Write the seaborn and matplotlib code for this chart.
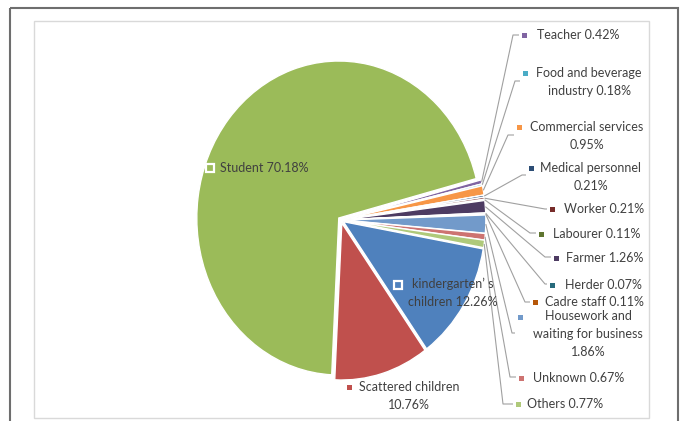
"""Occupation breakdown pie (Excel-style exploded pie with leader-lined labels)."""

import matplotlib

matplotlib.use("Agg")
import matplotlib.pyplot as plt
import numpy as np
import seaborn as sns
from matplotlib.patches import Rectangle

# ---- data -----------------------------------------------------------------
CATEGORIES = [
    "kindergarten’ s children",
    "Scattered children",
    "Student",
    "Teacher",
    "Food and beverage industry",
    "Commercial services",
    "Medical personnel",
    "Worker",
    "Labourer",
    "Farmer",
    "Herder",
    "Cadre staff",
    "Housework and waiting for business",
    "Unknown",
    "Others",
]
SHARES = [12.26, 10.76, 70.18, 0.42, 0.18, 0.95, 0.21, 0.21, 0.11, 1.26, 0.07, 0.11, 1.86, 0.67, 0.77]

# Excel 2010 default series palette
COLORS = [
    "#4F81BD", "#C0504D", "#9BBB59", "#8064A2", "#4BACC6", "#F79646",
    "#2C4D75", "#772C2A", "#5F7530", "#4D3B62", "#276A7C", "#B65708",
    "#729ACA", "#CD7371", "#AFC97A",
]

# word index after which the label wraps
BREAKS = {
    "kindergarten’ s children": [2],
    "Scattered children": [2],
    "Food and beverage industry": [3],
    "Commercial services": [2],
    "Medical personnel": [2],
    "Housework and waiting for business": [2, 5],
}

# pixel layout: marker xy, text x, first-line y, alignment, leader elbow (or None)
LAYOUT = {
    "Student": (210, 168, 220, 168, "left", None),
    "kindergarten’ s children": (398, 285, 453, 284, "center", None),
    "Scattered children": (349, 387, 409, 387, "center", None),
    "Teacher": (524, 35, 537, 35, "left", (513, 35)),
    "Food and beverage industry": (525, 73, 589, 73, "center", (515, 81)),
    "Commercial services": (519, 127, 587, 127, "center", (508, 135)),
    "Medical personnel": (531, 168, 591, 168, "center", (522, 175)),
    "Worker": (552, 209, 564, 209, "left", (545, 209)),
    "Labourer": (541, 234, 553, 234, "left", (530, 233)),
    "Farmer": (556, 258, 566, 258, "left", (545, 257)),
    "Herder": (552, 285, 565, 285, "left", (545, 284)),
    "Cadre staff": (535, 302, 545, 302, "left", (525, 302)),
    "Housework and waiting for business": (520, 317, 588, 316, "center", (512, 333)),
    "Unknown": (521, 378, 533, 378, "left", (510, 377)),
    "Others": (518, 404, 527, 404, "left", (503, 404)),
}
HOLLOW = {"Student", "kindergarten’ s children"}

TEXT = "#404040"
LEADER = "#A0A0A0"

sns.set_theme(style="white")
plt.rcParams["font.family"] = ["Lato", "DejaVu Sans"]

W, H = 684, 421
CX, CY, RX, RY = 341, 220, 142, 157  # pie centre / radii in pixels (slightly tall ellipse)
PAD = 1.1

fig = plt.figure(figsize=(W / 100, H / 100), dpi=100)
fig.patch.set_facecolor("white")

pie_ax = fig.add_axes(
    [(CX - PAD * RX) / W, (H - CY - PAD * RY) / H, 2 * PAD * RX / W, 2 * PAD * RY / H]
)
wedges, _ = pie_ax.pie(
    SHARES,
    colors=COLORS,
    startangle=-10,
    counterclock=False,
    explode=[0.02] * len(SHARES),
    wedgeprops={"edgecolor": "white", "linewidth": 1.0},
)
pie_ax.set_aspect("auto")
pie_ax.set_xlim(-PAD, PAD)
pie_ax.set_ylim(-PAD, PAD)
pie_ax.axis("off")

# overlay in image-pixel coordinates for labels, leaders and frames
ov = fig.add_axes([0, 0, 1, 1])
ov.set_xlim(0, W)
ov.set_ylim(H, 0)
ov.axis("off")
ov.patch.set_alpha(0)

ov.add_patch(Rectangle((10, 8), 668, 430, fill=False, ec="#6E6E6E", lw=1.5, clip_on=False))
ov.add_patch(Rectangle((34, 21), 615, 397, fill=False, ec="#D9D9D9", lw=1.0))

to_px = ov.transData.inverted()

for name, share, color, w in zip(CATEGORIES, SHARES, COLORS, wedges):
    mx, my, tx, ty, ha, elbow = LAYOUT[name]
    words = f"{name} {share:.2f}%".split(" ")
    cuts = [0] + BREAKS.get(name, []) + [len(words)]
    lines = [" ".join(words[a:b]) for a, b in zip(cuts[:-1], cuts[1:])]
    for i, line in enumerate(lines):
        ov.text(tx, ty + i * 18, line, ha=ha, va="center", fontsize=9, color=TEXT)

    if name in HOLLOW:
        ov.plot([mx], [my], marker="s", ms=6, mfc=color, mec="white", mew=1.6, ls="none")
    else:
        ov.plot([mx], [my], marker="s", ms=3.6, color=color, mew=0, ls="none")

    if elbow is not None:
        mid = np.deg2rad((w.theta1 + w.theta2) / 2)
        pt = (w.center[0] + w.r * np.cos(mid), w.center[1] + w.r * np.sin(mid))
        ax_, ay_ = to_px.transform(pie_ax.transData.transform(pt))
        ex, ey = elbow
        ov.plot([ax_, ex, mx - 5], [ay_, ey, ey], color=LEADER, lw=0.8, solid_capstyle="butt")

fig.savefig("out.png", dpi=100)
